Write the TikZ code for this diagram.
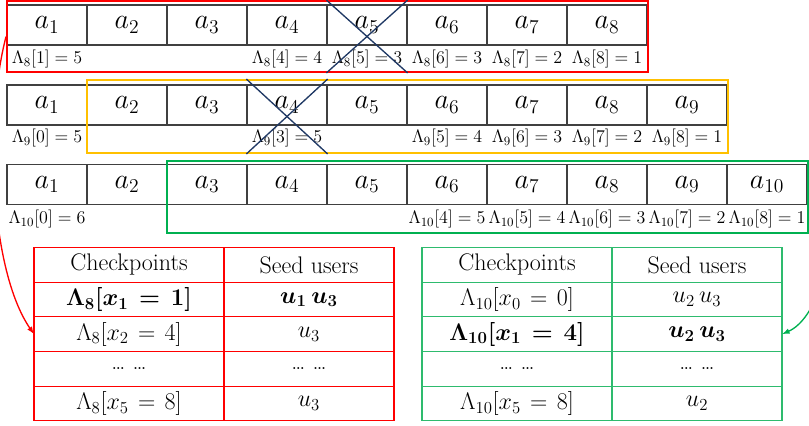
\RequirePackage{fix-cm}
\documentclass[tikz,border=0pt]{standalone}
\usepackage{amsmath}
\usepackage{tikz}
\usetikzlibrary{arrows.meta,positioning,fit}
\definecolor{frameRed}{HTML}{FF0000}
\definecolor{frameGold}{HTML}{FFC000}
\definecolor{frameGreen}{HTML}{00B050}
\definecolor{tabGreen}{HTML}{2EBB6E}
\definecolor{crossBlue}{HTML}{1F3864}
\definecolor{cellGray}{HTML}{404040}
\begin{document}
\begin{tikzpicture}[
  x=0.75pt,y=-0.75pt,
  node distance=0pt,
  cell/.style={draw=cellGray,line width=0.9pt,minimum width=60pt,minimum height=30pt,inner sep=0pt,font=\fontsize{21}{24}\selectfont},
  lab/.style={inner sep=0pt,font=\fontsize{13.5}{16}\selectfont},
  hlbox/.style={draw,line width=1.4pt,inner sep=0pt},
  xline/.style={draw=crossBlue,line width=1pt},
  tcell/.style={draw,line width=0.8pt,minimum height=26pt,inner sep=0pt,outer sep=0pt,font={\fontsize{18}{21}\selectfont\thickmuskip=7mu}},
  cpcol/.style={tcell,minimum width=142.5pt},
  sucol/.style={tcell,minimum width=127.5pt},
  arr/.style={-{Latex[length=2mm]},line width=1pt}
]
\useasboundingbox (0,0) rectangle (809,425);
% the three arrays
\foreach \i in {1,...,8}
  \node[cell] (r1c\i) at ({80*\i-33},25) {$a_{\i}$};
\foreach \i in {1,...,9}
  \node[cell] (r2c\i) at ({80*\i-33},105) {$a_{\i}$};
\foreach \i in {1,...,10}
  \node[cell] (r3c\i) at ({80*\i-33},184.5) {$a_{\i}$};
% counters under the cells
\foreach \c/\k/\v in {1/1/5,4/4/4,5/5/3,6/6/3,7/7/2,8/8/1}
  \node[lab] (l1-\c) at (r1c\c |- 0,59) {$\Lambda_8[\k] = \v$};
\foreach \c/\k/\v in {1/0/5,4/3/5,6/5/4,7/6/3,8/7/2,9/8/1}
  \node[lab] (l2-\c) at (r2c\c |- 0,138) {$\Lambda_9[\k] = \v$};
\foreach \c/\k/\v in {1/0/6,6/4/5,7/5/4,8/6/3,9/7/2,10/8/1}
  \node[lab] (l3-\c) at (r3c\c |- 0,219) {$\Lambda_{10}[\k] = \v$};
% windows
\node[hlbox,draw=frameRed,fit={(7,1) (648,72)}] (redbox) {};
\node[hlbox,draw=frameGold,fit={(87,80) (728,153)}] (goldbox) {};
\node[hlbox,draw=frameGreen,fit={(167,161) (808,233)}] (greenbox) {};
\draw[xline] (r1c5.west |- redbox.north) -- (r1c5.east |- redbox.south);
\draw[xline] (r1c5.east |- redbox.north) -- (r1c5.west |- redbox.south);
\draw[xline] (r2c4.west |- goldbox.north) -- (r2c4.east |- goldbox.south);
\draw[xline] (r2c4.east |- goldbox.north) -- (r2c4.west |- goldbox.south);
% checkpoint table, window 8
\node[cpcol,draw=frameRed] (tl-1-1) at (129,264.85) {Checkpoints};
\node[sucol,draw=frameRed,right=of tl-1-1] (tl-1-2) {Seed users};
\node[cpcol,draw=frameRed,below=of tl-1-1] (tl-2-1) {{\boldmath$\Lambda_8[x_1 = 1]$}};
\node[sucol,draw=frameRed,right=of tl-2-1] (tl-2-2) {{\boldmath$u_1\,u_3$}};
\node[cpcol,draw=frameRed,below=of tl-2-1] (tl-3-1) {$\Lambda_8[x_2 = 4]$};
\node[sucol,draw=frameRed,right=of tl-3-1] (tl-3-2) {$u_3$};
\node[cpcol,draw=frameRed,below=of tl-3-1] (tl-4-1) {\dots\ \dots};
\node[sucol,draw=frameRed,right=of tl-4-1] (tl-4-2) {\dots\ \dots};
\node[cpcol,draw=frameRed,below=of tl-4-1] (tl-5-1) {$\Lambda_8[x_5 = 8]$};
\node[sucol,draw=frameRed,right=of tl-5-1] (tl-5-2) {$u_3$};
% checkpoint table, window 10
\node[cpcol,draw=tabGreen] (tr-1-1) at (517,264.85) {Checkpoints};
\node[sucol,draw=tabGreen,right=of tr-1-1] (tr-1-2) {Seed users};
\node[cpcol,draw=tabGreen,below=of tr-1-1] (tr-2-1) {$\Lambda_{10}[x_0 = 0]$};
\node[sucol,draw=tabGreen,right=of tr-2-1] (tr-2-2) {$u_2\,u_3$};
\node[cpcol,draw=tabGreen,below=of tr-2-1] (tr-3-1) {{\boldmath$\Lambda_{10}[x_1 = 4]$}};
\node[sucol,draw=tabGreen,right=of tr-3-1] (tr-3-2) {{\boldmath$u_2\,u_3$}};
\node[cpcol,draw=tabGreen,below=of tr-3-1] (tr-4-1) {\dots\ \dots};
\node[sucol,draw=tabGreen,right=of tr-4-1] (tr-4-2) {\dots\ \dots};
\node[cpcol,draw=tabGreen,below=of tr-4-1] (tr-5-1) {$\Lambda_{10}[x_5 = 8]$};
\node[sucol,draw=tabGreen,right=of tr-5-1] (tr-5-2) {$u_2$};
\draw[arr,frameRed] (redbox.west) .. controls +(-22,84) and +(-44,-64) .. (tl-3-1.west);
\draw[arr,frameGreen] (greenbox.east) .. controls +(32,63) and +(32,-14) .. (tr-3-2.east);
\end{tikzpicture}
\end{document}
